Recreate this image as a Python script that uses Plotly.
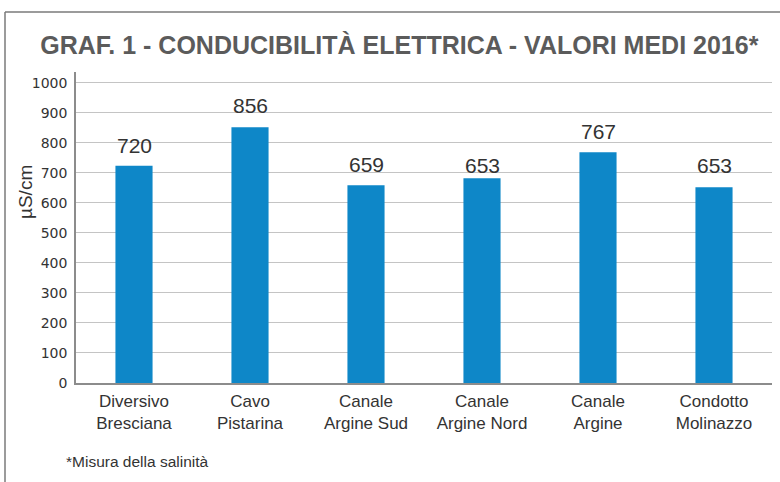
import plotly.graph_objects as go

categories = ["Diversivo<br>Bresciana", "Cavo<br>Pistarina", "Canale<br>Argine Sud",
              "Canale<br>Argine Nord", "Canale<br>Argine", "Condotto<br>Molinazzo"]
bar_values = [724, 852, 659, 682, 769, 652]
label_values = [720, 856, 659, 653, 767, 653]
y_ticks = [0, 100, 200, 300, 400, 500, 600, 700, 800, 900, 1000]

title_text = "GRAF. 1 - CONDUCIBILITÀ ELETTRICA - VALORI MEDI 2016*"
y_title = "µS/cm"
footnote = "*Misura della salinità"

W, H = 780, 482
L, R, T, B = 76, 8, 72, 99
PW, PH = W - L - R, H - T - B


def px_x(x):
    return (x - L) / PW


def px_y(y):
    return (H - B - y) / PH


fig = go.Figure()
fig.add_trace(go.Bar(
    x=categories, y=bar_values,
    marker=dict(color="#0e87c8", line=dict(width=0)),
    hoverinfo="skip",
))

for c, v in zip(categories, label_values):
    fig.add_annotation(x=c, y=v, text=str(v), showarrow=False, yanchor="middle",
                       yshift=21, font=dict(family="Liberation Sans, Arial", size=21, color="#333333"))

fig.update_layout(
    width=W, height=H,
    margin=dict(l=L, r=R, t=T, b=B, pad=0),
    paper_bgcolor="white", plot_bgcolor="white",
    bargap=0.68,
    showlegend=False,
    title=dict(text="<b>" + title_text + "</b>", x=0.512, xanchor="center", y=1 - 45 / H, yanchor="middle",
               font=dict(family="Liberation Sans, Arial", size=25, color="#5b5b5b")),
    xaxis=dict(showline=True, linecolor="#8c8c8c", linewidth=1.5, showgrid=False, ticks="",
               ticklabelstandoff=2,
               tickfont=dict(family="Liberation Sans, Arial", size=17, color="#333333")),
    yaxis=dict(range=[0, 1036], tickvals=y_ticks, showline=True, linecolor="#8c8c8c", linewidth=1.5,
               showgrid=True, gridcolor="#c4c4c4", gridwidth=1, ticks="", zeroline=False,
               tickfont=dict(family="DejaVu Sans", size=14, color="#333333"), ticklabelstandoff=4),
)

# y-axis title
fig.add_annotation(text=y_title, xref="paper", yref="paper", x=px_x(25), y=px_y(192),
                   xanchor="center", yanchor="middle", textangle=-90, showarrow=False,
                   font=dict(family="Liberation Sans, Arial", size=19, color="#333333"))

# frame around chart (top and left edges)
fig.add_shape(type="line", xref="paper", yref="paper",
              x0=px_x(5), x1=px_x(W + 5), y0=px_y(12), y1=px_y(12),
              line=dict(color="#7a7a7a", width=1.5))
fig.add_shape(type="line", xref="paper", yref="paper",
              x0=px_x(5), x1=px_x(5), y0=px_y(12), y1=px_y(H + 5),
              line=dict(color="#7a7a7a", width=1.5))

fig.add_annotation(text=footnote, xref="paper", yref="paper",
                   x=px_x(64), y=px_y(462),
                   xanchor="left", yanchor="middle", showarrow=False,
                   font=dict(family="Liberation Sans, Arial", size=15.5, color="#333333"))

fig.write_html("out.html", config={"displayModeBar": False},
               post_script="document.body.style.margin='0';")
